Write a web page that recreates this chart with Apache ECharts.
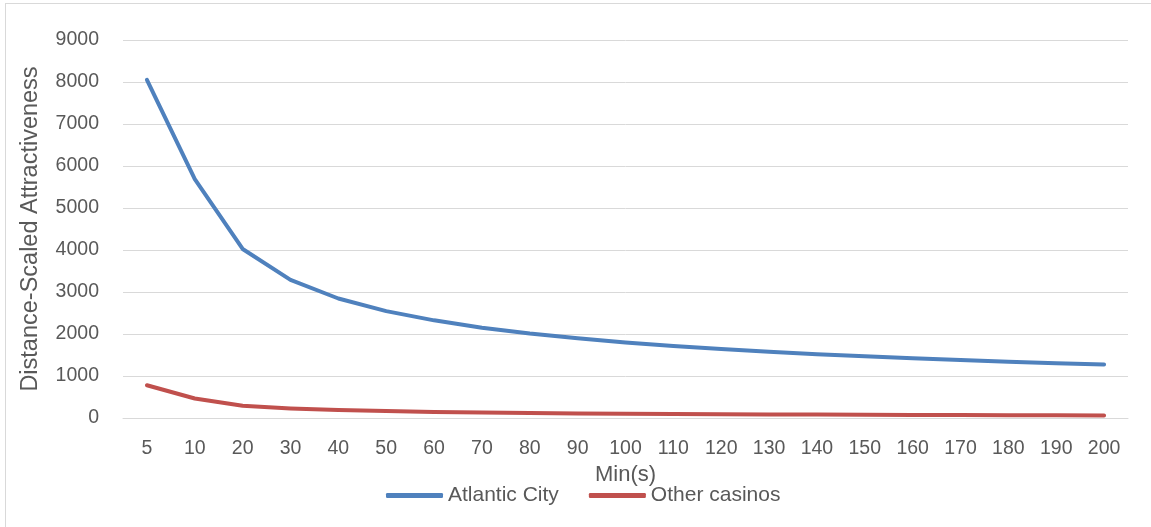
<!DOCTYPE html>
<html>
<head>
<meta charset="utf-8">
<script src="https://cdn.jsdelivr.net/npm/echarts@6/dist/echarts.min.js"></script>
<style>
  html, body { margin: 0; padding: 0; background: #fff; overflow: hidden; }
  #frame { position: absolute; left: 5px; top: 3px; width: 1160px; height: 540px; border: 1.5px solid #d9d9d9; }
  #chart { position: absolute; left: 0; top: 0; width: 1151px; height: 527px; }
</style>
</head>
<body>
<div id="frame"></div>
<div id="chart"></div>
<script>
// Travel time in minutes
const minutes = ['5', '10', '20', '30', '40', '50', '60', '70', '80', '90', '100',
                 '110', '120', '130', '140', '150', '160', '170', '180', '190', '200'];
// Distance-scaled attractiveness per destination
const atlanticCity = [8050, 5690, 4025, 3290, 2845, 2545, 2325, 2150, 2010, 1900, 1800,
                      1715, 1645, 1580, 1520, 1470, 1425, 1380, 1340, 1305, 1275];
const otherCasinos = [780, 465, 290, 228, 190, 165, 145, 130, 120, 110, 102,
                      95, 90, 86, 82, 78, 74, 71, 68, 65, 62];
const yTicks = { min: 0, max: 9000, step: 1000 };

const FONT = 'Liberation Sans';
const TXT = '#595959';

const chart = echarts.init(document.getElementById('chart'), null, { renderer: 'canvas' });
chart.setOption({
  animation: false,
  textStyle: { fontFamily: FONT },
  grid: { left: 123, right: 23, top: 40, bottom: 109 },
  legend: {
    left: 381, top: 480,
    itemWidth: 57, itemHeight: 5, itemGap: 30,
    icon: 'roundRect',
    textStyle: { fontFamily: FONT, fontSize: 21, color: TXT },
    data: ['Atlantic City', 'Other casinos']
  },
  xAxis: {
    type: 'category',
    data: minutes,
    boundaryGap: true,
    name: 'Min(s)',
    nameLocation: 'middle',
    nameGap: 42,
    nameTextStyle: { fontFamily: FONT, fontSize: 22, color: TXT },
    axisLine: { lineStyle: { color: '#d9d9d9', width: 1 } },
    axisTick: { show: false },
    axisLabel: { fontFamily: FONT, fontSize: 19.5, color: TXT, margin: 21 }
  },
  yAxis: {
    type: 'value',
    min: yTicks.min, max: yTicks.max, interval: yTicks.step,
    name: 'Distance-Scaled Attractiveness',
    nameLocation: 'middle',
    nameGap: 80,
    nameTextStyle: { fontFamily: FONT, fontSize: 23.5, color: TXT },
    axisLine: { show: false },
    axisTick: { show: false },
    splitLine: { lineStyle: { color: '#d9d9d9', width: 1 } },
    axisLabel: {
      fontFamily: FONT, fontSize: 19.5, color: TXT, margin: 24,
      formatter: v => String(v)
    }
  },
  series: [
    {
      name: 'Atlantic City', type: 'line', data: atlanticCity,
      symbol: 'none', smooth: false,
      itemStyle: { color: '#4f81bd' },
      lineStyle: { color: '#4f81bd', width: 4, cap: 'round', join: 'round' }
    },
    {
      name: 'Other casinos', type: 'line', data: otherCasinos,
      symbol: 'none', smooth: false,
      itemStyle: { color: '#c0504d' },
      lineStyle: { color: '#c0504d', width: 4, cap: 'round', join: 'round' }
    }
  ]
});
</script>
</body>
</html>
